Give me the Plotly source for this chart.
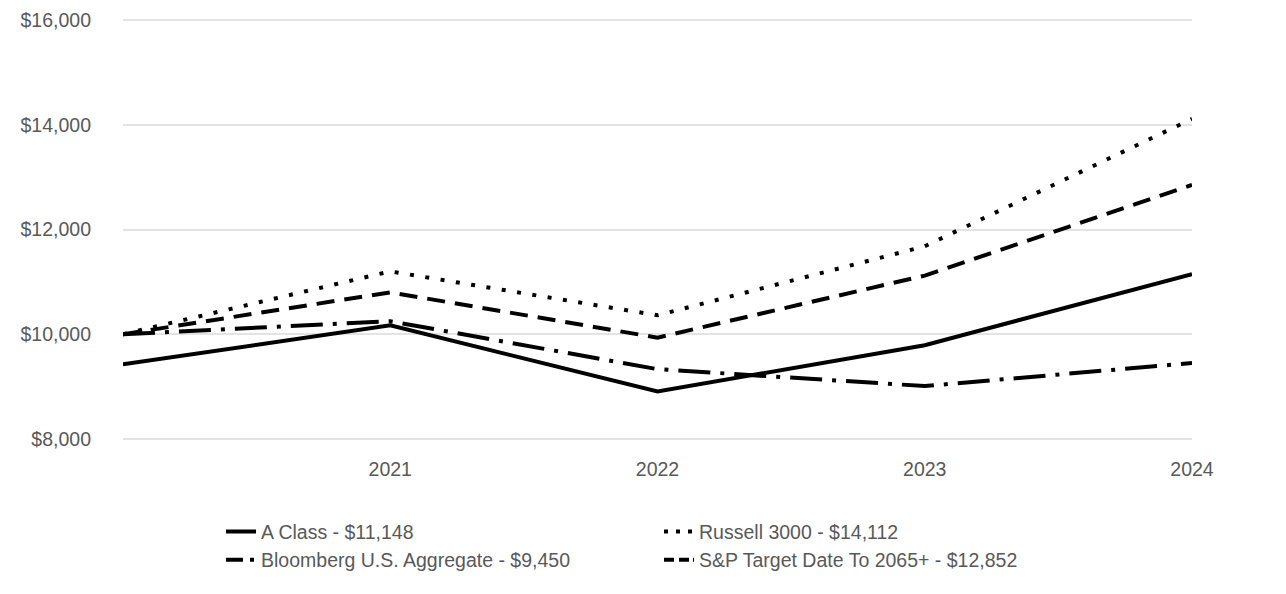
import plotly.graph_objects as go

years = [2020, 2021, 2022, 2023, 2024]
tick_years = [2021, 2022, 2023, 2024]
tick_text = ["2021", "2022", "2023", "2024"]

a_class = [9425, 10171, 8905, 9790, 11148]
russell_3000 = [10000, 11200, 10362, 11680, 14112]
bloomberg_agg = [10000, 10248, 9333, 9010, 9450]
sp_target = [10000, 10800, 9935, 11120, 12852]

names = [
    "A Class - $11,148",
    "Russell 3000 - $14,112",
    "Bloomberg U.S. Aggregate - $9,450",
    "S&P Target Date To 2065+ - $12,852",
]

y_ticks = [8000, 10000, 12000, 14000, 16000]
y_tick_text = ["$8,000", "$10,000", "$12,000", "$14,000", "$16,000"]

FONT = "Liberation Sans, Arial, sans-serif"
GRAY = "#595959"
FS = 19.5

# (values, name, line dash, legend-key dash)
series = [
    (a_class, names[0], "solid", "solid"),
    (russell_3000, names[1], "4px,11.5px", "4px,8px"),
    (bloomberg_agg, names[2], "32px,10px,4px,10px", "17px,7px,4px,10px"),
    (sp_target, names[3], "18px,10px", "10px,5px,10px,4px,3px"),
]

fig = go.Figure()
for vals, name, dash, key_dash in series:
    fig.add_trace(go.Scatter(
        x=years, y=vals, name=name, mode="lines",
        line=dict(color="black", width=4, dash=dash),
        hoverinfo="skip", cliponaxis=False,
        legendgroup=name, showlegend=False,
    ))
    # legend-only entry with a dash pattern that fits the short legend key
    fig.add_trace(go.Scatter(
        x=[None], y=[None], name=name, mode="lines",
        line=dict(color="black", width=4, dash=key_dash),
        hoverinfo="skip", legendgroup=name, showlegend=True,
    ))

# page body has an 8px default margin, so the figure is sized/offset for it
fig.update_layout(
    width=1278, height=586,
    margin=dict(l=115, r=94, t=10.5, b=153.5, autoexpand=False),
    paper_bgcolor="white", plot_bgcolor="white",
    font=dict(family=FONT, size=FS, color=GRAY),
    showlegend=True,
    legend=dict(
        orientation="h",
        x=0.0917, xanchor="left",
        y=-0.1718, yanchor="top",
        entrywidth=393, entrywidthmode="pixels",
        font=dict(family=FONT, size=FS, color=GRAY),
        tracegroupgap=0,
        bgcolor="rgba(0,0,0,0)",
    ),
    xaxis=dict(
        range=[2020, 2024], automargin=False,
        tickmode="array", tickvals=tick_years, ticktext=tick_text,
        showgrid=False, zeroline=False, showline=False,
        ticks="", ticklabelstandoff=15,
        tickfont=dict(family=FONT, size=FS, color=GRAY),
    ),
    yaxis=dict(
        range=[7980, 16020], automargin=False,
        tickmode="array", tickvals=y_ticks, ticktext=y_tick_text,
        showgrid=True, gridcolor="#e3e3e3", gridwidth=2,
        zeroline=False, showline=False,
        ticks="", ticklabelstandoff=31,
        tickfont=dict(family=FONT, size=FS, color=GRAY),
    ),
)

fig.write_html("out.html")
